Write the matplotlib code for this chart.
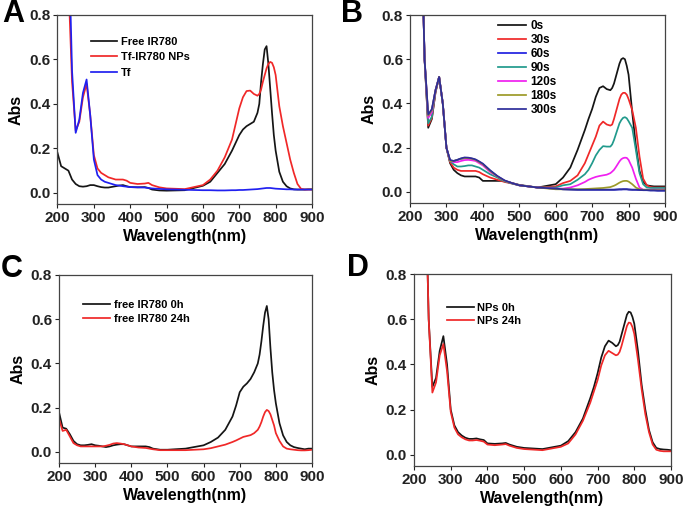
import matplotlib
matplotlib.use("Agg")
import matplotlib.pyplot as plt
from matplotlib.ticker import FormatStrFormatter

plt.rcParams['font.family'] = ['Liberation Sans', 'DejaVu Sans']
plt.rcParams['font.weight'] = 'bold'

# shared wavelength grid (nm)
WAVELENGTH = [200, 210, 220, 230, 240, 250, 260, 270, 280, 290,
              300, 310, 320, 330, 340, 350, 360, 370, 380, 390,
              400, 420, 440, 450, 460, 480, 500, 550, 600, 620,
              640, 660, 680, 690, 700, 710, 720, 730, 740, 750,
              755, 760, 765, 770, 775, 780, 785, 790, 795, 800,
              810, 820, 830, 840, 850, 860, 870, 880, 890, 900]

# Panel A
A_FREE = [.18, .12, .11, .10, .06, .04, .03, .028, .03, .035,
          .035, .03, .026, .024, .024, .027, .03, .033, .035, .03,
          .026, .025, .026, .022, .015, .011, .01, .012, .032, .05,
          .09, .13, .19, .225, .26, .285, .30, .31, .32, .36,
          .40, .50, .58, .645, .66, .58, .47, .36, .26, .19,
          .095, .05, .03, .02, .016, .015, .015, .015, .016, .016]
A_NPS = [1.6, 1.4, 1.2, .95, .5, .28, .32, .43, .49, .35,
         .17, .11, .09, .08, .07, .065, .06, .06, .06, .055,
         .045, .04, .042, .045, .035, .025, .02, .017, .035, .06,
         .10, .16, .24, .31, .38, .43, .458, .46, .445, .437,
         .445, .465, .50, .53, .56, .58, .589, .585, .565, .53,
         .39, .30, .225, .15, .09, .04, .018, .015, .015, .015]
A_TF = [3.0, 2.5, 2.0, 1.2, .55, .27, .33, .45, .51, .35,
        .15, .08, .06, .05, .045, .04, .035, .033, .03, .028,
        .026, .025, .024, .022, .02, .018, .016, .014, .012, .012,
        .011, .011, .012, .012, .013, .013, .014, .015, .016, .017,
        .018, .019, .02, .021, .022, .022, .022, .021, .02, .019,
        .018, .017, .016, .016, .015, .015, .015, .015, .015, .015]

# Panel B (irradiation time)
B_LABELS = ['0s', '30s', '60s', '90s', '120s', '180s', '300s']
B_0S = [3.0, 2.5, 2.0, 1.3, .6, .29, .33, .45, .52, .40,
        .20, .13, .10, .085, .075, .07, .07, .07, .07, .065,
        .05, .05, .05, .05, .048, .04, .032, .02, .035, .065,
        .11, .19, .28, .33, .375, .43, .47, .478, .465, .46,
        .47, .49, .52, .55, .58, .60, .605, .60, .57, .53,
        .36, .21, .095, .045, .03, .027, .025, .025, .025, .025]
B_30S = [3.0, 2.5, 2.0, 1.3, .6, .30, .335, .45, .52, .40,
         .20, .135, .11, .10, .095, .095, .095, .095, .095, .09,
         .08, .065, .055, .05, .045, .038, .03, .02, .025, .04,
         .05, .075, .13, .17, .21, .25, .30, .318, .305, .30,
         .305, .33, .36, .39, .42, .44, .448, .448, .44, .42,
         .37, .29, .16, .06, .03, .022, .02, .02, .02, .02]
B_60S = [3.0, 2.5, 2.0, 1.3, .6, .34, .37, .46, .52, .40,
         .20, .14, .14, .145, .15, .152, .152, .15, .145, .135,
         .125, .095, .07, .06, .05, .04, .03, .02, .015, .012,
         .011, .01, .01, .01, .01, .01, .01, .01, .01, .01,
         .01, .01, .01, .011, .011, .011, .012, .012, .012, .011,
         .01, .01, .009, .008, .008, .007, .007, .006, .006, .006]
B_90S = [3.0, 2.5, 2.0, 1.3, .6, .31, .34, .455, .52, .40,
         .20, .14, .125, .115, .115, .117, .12, .12, .115, .11,
         .10, .08, .065, .055, .048, .038, .03, .02, .02, .03,
         .035, .055, .08, .10, .13, .165, .19, .207, .205, .205,
         .215, .235, .26, .285, .31, .325, .335, .338, .333, .32,
         .29, .19, .085, .035, .02, .018, .018, .018, .018, .018]
B_120S = [3.0, 2.5, 2.0, 1.3, .6, .335, .36, .46, .52, .40,
          .20, .14, .135, .135, .14, .144, .145, .143, .14, .13,
          .12, .09, .07, .06, .05, .04, .03, .02, .015, .015,
          .02, .03, .045, .055, .062, .068, .072, .075, .078, .085,
          .092, .10, .112, .125, .138, .148, .153, .155, .154, .145,
          .11, .06, .02, .01, .01, .01, .01, .01, .01, .01]
B_180S = [3.0, 2.5, 2.0, 1.3, .6, .345, .37, .46, .52, .40,
          .20, .14, .14, .145, .15, .153, .153, .15, .145, .135,
          .125, .095, .07, .06, .05, .04, .03, .02, .012, .012,
          .012, .012, .013, .014, .015, .016, .017, .018, .02, .022,
          .025, .028, .032, .037, .042, .046, .049, .05, .05, .047,
          .035, .02, .012, .01, .01, .008, .008, .008, .008, .008]
B_300S = [3.0, 2.5, 2.0, 1.3, .6, .35, .375, .46, .52, .40,
          .20, .145, .14, .145, .152, .156, .155, .152, .147, .138,
          .128, .098, .072, .062, .052, .04, .03, .02, .015, .012,
          .011, .01, .01, .01, .01, .01, .01, .01, .01, .01,
          .01, .01, .011, .011, .012, .012, .012, .012, .012, .011,
          .01, .01, .009, .008, .008, .007, .007, .006, .006, .006]

# Panel C (free dye stability)
C_0H = [.18, .11, .105, .08, .05, .035, .03, .03, .032, .035,
        .03, .028, .025, .022, .025, .03, .033, .035, .035, .03,
        .025, .025, .025, .022, .015, .01, .01, .015, .03, .045,
        .065, .10, .16, .21, .27, .295, .31, .33, .36, .40,
        .44, .50, .57, .63, .66, .60, .47, .36, .28, .22,
        .13, .075, .045, .03, .022, .018, .015, .012, .015, .015]
C_24H = [.15, .095, .10, .07, .04, .03, .025, .025, .025, .025,
         .025, .025, .025, .028, .032, .038, .04, .038, .035, .03,
         .025, .02, .018, .015, .012, .008, .008, .008, .012, .017,
         .025, .033, .045, .052, .06, .068, .072, .076, .085, .10,
         .115, .135, .16, .18, .19, .185, .17, .145, .12, .085,
         .05, .025, .015, .012, .01, .008, .007, .007, .008, .01]

# Panel D (NPs stability)
D_0H = [3.0, 2.5, 2.0, 1.3, .6, .30, .34, .46, .525, .40,
        .20, .13, .10, .085, .075, .07, .07, .072, .068, .065,
        .05, .048, .05, .052, .045, .035, .03, .025, .04, .06,
        .10, .16, .25, .30, .36, .43, .48, .505, .495, .48,
        .485, .50, .53, .56, .59, .62, .633, .63, .61, .58,
        .46, .31, .20, .11, .055, .03, .025, .023, .022, .02]
D_24H = [3.0, 2.5, 2.0, 1.3, .6, .275, .32, .44, .49, .37,
         .19, .12, .09, .077, .068, .063, .063, .065, .062, .058,
         .045, .042, .045, .047, .04, .03, .025, .02, .035, .05,
         .09, .15, .23, .28, .33, .395, .44, .46, .45, .44,
         .443, .455, .48, .51, .54, .57, .585, .583, .565, .535,
         .42, .29, .18, .10, .045, .022, .017, .015, .015, .015]

B_COLORS = ['#151515', '#f02828', '#2020e0', '#219a8c', '#f020f0', '#9c9a28', '#2d2d9a']


def style_axes(ax):
    ax.set_xlim(200, 900)
    ax.set_ylim(-0.05, 0.8)
    ax.set_xticks(range(200, 901, 100))
    ax.set_yticks([0.0, 0.2, 0.4, 0.6, 0.8])
    ax.yaxis.set_major_formatter(FormatStrFormatter('%.1f'))
    ax.tick_params(direction='out', length=3, width=0.8, labelsize=11, pad=2, colors='#222222')
    for s in ax.spines.values():
        s.set_linewidth(0.9)
        s.set_color('#444444')
    ax.set_xlabel('Wavelength(nm)', fontsize=11.5, fontweight='bold', labelpad=3)
    ax.set_ylabel('Abs', fontsize=11.5, fontweight='bold', labelpad=4)


def add_legend(ax, x, y, fs, spacing):
    ax.legend(loc='upper left', bbox_to_anchor=(x, y), frameon=False, fontsize=fs,
              handlelength=2.4, handletextpad=0.35, labelspacing=spacing,
              borderpad=0, borderaxespad=0)


fig = plt.figure(figsize=(6.85, 5.09), dpi=100)
W, H = 685, 509


def axes_px(left, top, right, bottom):
    return fig.add_axes([left / W, 1 - bottom / H, (right - left) / W, (bottom - top) / H])


axA = axes_px(57.5, 15, 312, 204)
axB = axes_px(410, 15, 665, 203)
axC = axes_px(59, 275, 312, 463)
axD = axes_px(414, 274, 671, 466)

lw = 1.25
axA.plot(WAVELENGTH, A_FREE, color='#151515', lw=lw, label='Free IR780')
axA.plot(WAVELENGTH, A_NPS, color='#f02828', lw=lw, label='Tf-IR780 NPs')
axA.plot(WAVELENGTH, A_TF, color='#2020f0', lw=lw, label='Tf')
style_axes(axA)
add_legend(axA, 0.13, 0.885, 8, 0.5)

for ys, lab, col in zip([B_0S, B_30S, B_60S, B_90S, B_120S, B_180S, B_300S], B_LABELS, B_COLORS):
    axB.plot(WAVELENGTH, ys, color=col, lw=lw, label=lab)
style_axes(axB)
add_legend(axB, 0.345, 0.975, 8.5, 0.18)

axC.plot(WAVELENGTH, C_0H, color='#151515', lw=lw, label='free IR780 0h')
axC.plot(WAVELENGTH, C_24H, color='#f02828', lw=lw, label='free IR780 24h')
style_axes(axC)
add_legend(axC, 0.095, 0.865, 8, 0.3)

axD.plot(WAVELENGTH, D_0H, color='#151515', lw=lw, label='NPs 0h')
axD.plot(WAVELENGTH, D_24H, color='#f02828', lw=lw, label='NPs 24h')
style_axes(axD)
add_legend(axD, 0.128, 0.85, 8, 0.3)

for letter, px, py in [('A', 13, 14), ('B', 352, 14), ('C', 12, 269), ('D', 358, 268)]:
    fig.text(px / W, 1 - py / H, letter, fontsize=22, fontweight='bold', ha='center', va='center')

fig.savefig('out.png', dpi=100)
